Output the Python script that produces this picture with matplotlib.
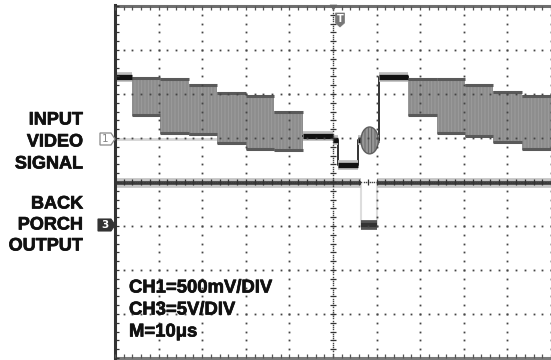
import matplotlib
matplotlib.use('Agg')
import matplotlib.pyplot as plt
from matplotlib.font_manager import FontProperties
import matplotlib.patheffects as pe
import numpy as np
from matplotlib.patches import Polygon, Ellipse

# ---------------- data (divisions) ----------------
# CH1 chroma bars (time start/end in divisions, top/bottom envelope in divisions)
bar_start  = [0.39, 1.03, 1.70, 2.34, 3.00, 3.65, 6.72, 7.39, 8.03, 8.67, 9.33]
bar_end    = [1.03, 1.70, 2.34, 3.00, 3.65, 4.31, 7.39, 8.03, 8.67, 9.33, 10.0]
bar_top    = [2.39, 2.36, 2.23, 2.05, 1.98, 1.61, 2.36, 2.36, 2.23, 2.07, 1.98]
bar_bottom = [1.50, 1.09, 1.05, 0.86, 0.73, 0.70, 1.50, 1.09, 1.02, 0.89, 0.73]

# CH1 flat (luma / sync) segments
flat_t0  = [0.00, 4.31, 5.00, 5.11, 5.57, 6.06]
flat_t1  = [0.39, 5.00, 5.11, 5.57, 6.06, 6.72]
flat_lvl = [2.39, 1.05, 0.95, 0.39, 0.95, 2.39]

# colour burst
burst_t0, burst_t1 = 5.64, 6.04
burst_top, burst_bottom = 1.25, 0.64

# faint CH1 ghost line
ghost_t = [0.00, 4.31]
ghost_lvl = 0.98

# CH3 back-porch output
ch3_t0  = [0.00, 5.64, 6.01]
ch3_t1  = [5.64, 6.01, 10.0]
ch3_lvl = [-0.02, -0.98, -0.02]

left_labels = ["INPUT", "VIDEO", "SIGNAL", "BACK", "PORCH", "OUTPUT"]
left_label_y = [120, 142, 164, 204, 225, 246]
info_labels = ["CH1=500mV/DIV", "CH3=5V/DIV", "M=10\u03bcs"]
info_label_y = [288, 310, 332]

def label_fp(size):
    return FontProperties(family=['Liberation Sans', 'DejaVu Sans'], weight='bold', size=size)

plt.rcParams['hatch.color'] = '#9e9e9e'
plt.rcParams['hatch.linewidth'] = 0.6

W, H = 551, 360
def P(x, y):
    return (x / W, 1 - y / H)

fig = plt.figure(figsize=(W / 100, H / 100), dpi=100)
fig.patch.set_facecolor('white')
ax = fig.add_axes([115 / W, 2 / H, 436 / W, 352 / H])
ax.set_xlim(0, 10)
ax.set_ylim(-4, 4)
ax.axis('off')

# ---------------- traces ----------------
ax.plot(ghost_t, [ghost_lvl] * 2, color='#d4d4d4', lw=2, zorder=1, solid_capstyle='butt')

for s, e, t, b in zip(bar_start, bar_end, bar_top, bar_bottom):
    ax.fill_between([s, e], [t, t], [b, b], facecolor='#8d8d8d', edgecolor='#9e9e9e', hatch='|||||', lw=0, zorder=2)
    ax.plot([s, e], [t - 0.03, t - 0.03], color='#5a5a5a', lw=2.2, zorder=3, solid_capstyle='butt')
    ax.plot([s, e], [b + 0.03, b + 0.03], color='#5a5a5a', lw=2.2, zorder=3, solid_capstyle='butt')

# connecting edges between flat segments
conn_t, conn_v = [], []
for i in range(1, len(flat_t0)):
    conn_t += [flat_t0[i], flat_t1[i]]
    conn_v += [flat_lvl[i], flat_lvl[i]]
ax.plot(conn_t, conn_v, color='#333333', lw=1.4, zorder=3)
for t0, t1, v in zip(flat_t0, flat_t1, flat_lvl):
    ax.plot([t0, t1], [v, v], color='#bdbdbd', lw=7, zorder=3, solid_capstyle='butt')
    ax.plot([t0, t1], [v, v], color='#111111', lw=3.8, zorder=4, solid_capstyle='butt')

bc = (burst_t0 + burst_t1) / 2
ax.add_patch(Ellipse((bc, (burst_top + burst_bottom) / 2), burst_t1 - burst_t0,
                     burst_top - burst_bottom, facecolor='#969696', edgecolor='#5e5e5e',
                     hatch='|||||', lw=1.0, zorder=5))

# CH3
for i in range(len(ch3_t0) - 1):
    ax.plot([ch3_t1[i], ch3_t1[i]], [ch3_lvl[i], ch3_lvl[i + 1]], color='#dddddd', lw=1.5, zorder=2)
for t0, t1, v in zip(ch3_t0, ch3_t1, ch3_lvl):
    if v > -0.5:
        ax.plot([t0, t1], [v, v], color='#c4c4c4', lw=7, zorder=3, solid_capstyle='butt')
        ax.plot([t0, t1], [v, v], color='#3a3a3a', lw=2.6, zorder=4, solid_capstyle='butt')
    else:
        ax.plot([t0, t1], [v, v], color='#555555', lw=7, zorder=4, solid_capstyle='butt')
        ax.plot([t0, t1], [v, v], color='#333333', lw=3, zorder=4, solid_capstyle='butt')

# ---------------- graticule ----------------
minor_x = np.arange(0, 10.001, 0.2)
minor_y = np.arange(-4, 4.001, 0.2)
for gy in range(-3, 4):
    if gy == 0:
        continue
    ax.plot(minor_x, [gy] * len(minor_x), ls='none', marker='s', ms=1.3, mew=0, color='#444', zorder=6, clip_on=False)
for gx in range(1, 11):
    if gx == 5:
        continue
    ax.plot([gx] * len(minor_y), minor_y, ls='none', marker='s', ms=1.3, mew=0, color='#444', zorder=6, clip_on=False)
dense_x = np.arange(0, 10.001, 0.05)
dense_y = np.arange(-4, 4.001, 0.05)
ax.plot(dense_x, [0] * len(dense_x), ls='none', marker='s', ms=1.0, mew=0, color='#444', zorder=6)
ax.plot([5] * len(dense_y), dense_y, ls='none', marker='s', ms=1.0, mew=0, color='#444', zorder=6)
ax.plot(minor_x, [0] * len(minor_x), ls='none', marker='|', ms=4, mew=0.9, color='#333', zorder=6)
ax.plot([5] * len(minor_y), minor_y, ls='none', marker='_', ms=4, mew=0.9, color='#333', zorder=6)

# border
ax.plot([0, 10.2], [4, 4], color='#6e6e6e', lw=2.2, zorder=7, clip_on=False)
ax.plot([0, 10.2], [-4, -4], color='#7a7a7a', lw=2.2, zorder=7, clip_on=False)
ax.plot([0, 0], [-4.03, 4.03], color='#333333', lw=2.2, zorder=7, clip_on=False)
ax.plot(minor_x, [4] * len(minor_x), ls='none', marker=3, ms=3, mew=0.9, color='#555', zorder=7, clip_on=False)
ax.plot(minor_x, [-4] * len(minor_x), ls='none', marker=2, ms=3, mew=0.9, color='#555', zorder=7, clip_on=False)
ax.plot([0] * len(minor_y), minor_y, ls='none', marker=1, ms=3, mew=0.9, color='#333', zorder=7, clip_on=False)

# ---------------- markers ----------------
fig.add_artist(Polygon([P(100, 133), P(111, 133), P(115, 139), P(111, 145), P(100, 145)],
                       closed=True, facecolor='white', edgecolor='#8a8a8a', lw=0.9, transform=fig.transFigure))
fig.text(*P(105.5, 139.5), "1", ha='center', va='center', fontsize=7.5, color='#888', family='DejaVu Sans')
fig.add_artist(Polygon([P(98, 219), P(111, 219), P(115, 225), P(111, 231), P(98, 231)],
                       closed=True, facecolor='#333333', edgecolor='#333333', lw=0.8, transform=fig.transFigure))
fig.text(*P(104.5, 225.5), "3", ha='center', va='center', fontsize=7.5, color='white', weight='bold', family='DejaVu Sans')
fig.add_artist(Polygon([P(330, 5), P(337, 5), P(333.5, 10)], closed=True, facecolor='#666',
                       edgecolor='#666', lw=0.5, transform=fig.transFigure))
fig.add_artist(Polygon([P(335.5, 13), P(344.5, 13), P(344.5, 23), P(340, 27), P(335.5, 23)], closed=True,
                       facecolor='#777', edgecolor='#777', lw=0.5, transform=fig.transFigure))
fig.text(*P(340, 19), "T", ha='center', va='center', fontsize=7, color='white', weight='bold', family='DejaVu Sans')

# ---------------- text ----------------
thick = [pe.withStroke(linewidth=0.5, foreground='#111')]
for s, y in zip(left_labels, left_label_y):
    fig.text(*P(83, y), s, ha='right', va='center', fontproperties=label_fp(13), color='#111',
             path_effects=thick)
for s, y in zip(info_labels, info_label_y):
    fig.text(*P(129, y), s, ha='left', va='center', fontproperties=label_fp(13.3), color='#111',
             path_effects=thick)

fig.savefig('out.png', dpi=100, facecolor='white')
